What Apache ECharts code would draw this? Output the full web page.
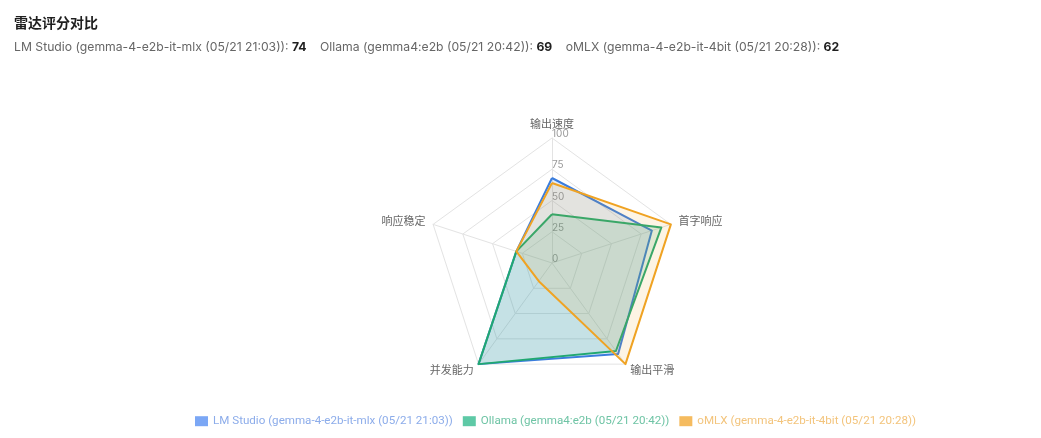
<!DOCTYPE html>
<html>
<head>
<meta charset="utf-8">
<script src="https://cdn.jsdelivr.net/npm/echarts@6/dist/echarts.min.js"></script>
<style>
  html, body { margin: 0; padding: 0; background: #fff; }
  #content { width: 1041px; height: 438px; }
</style>
</head>
<body>
<div id="content"></div>
<script>
// indicator order is counter-clockwise from the top (echarts radar default)
var indicatorNames = ['输出速度', '响应稳定', '并发能力', '输出平滑', '首字响应'];
var seriesNames = [
    'LM Studio (gemma-4-e2b-it-mlx (05/21 21:03))',
    'Ollama (gemma4:e2b (05/21 20:42))',
    'oMLX (gemma-4-e2b-it-4bit (05/21 20:28))'
];
var scores = [74, 69, 62];
var lmStudio = [68, 30, 100, 90, 84];
var ollama = [39, 30, 100, 87, 92];
var omlx = [64, 30, 18, 100, 100];
var tickMax = 100;

var lineColors = ['#3b7ddd', '#22a872', '#f0a323'];
var legendIconColors = ['#7ba7f5', '#5ec9a6', '#f5bb5f'];
var legendTextColors = ['#8cacea', '#6fc4a5', '#f3c47c'];

var font = 'Inter, "Noto Sans CJK SC", sans-serif';
var legendFont = 'Roboto, "Noto Sans CJK SC", sans-serif';

!(function(window) {
    var element = document.getElementById('content');
    var myChart = echarts.init(element);

    var subParts = [];
    for (var i = 0; i < seriesNames.length; i++) {
        subParts.push('{n|' + seriesNames[i] + ':} {b|' + scores[i] + '}');
    }

    var values = [lmStudio, ollama, omlx];
    var seriesData = [];
    var legendData = [];
    for (var k = 0; k < values.length; k++) {
        seriesData.push({
            name: seriesNames[k],
            value: values[k],
            symbol: 'none',
            lineStyle: { color: lineColors[k], width: 2 },
            itemStyle: { color: lineColors[k] },
            areaStyle: { color: lineColors[k], opacity: k === 2 ? 0.12 : 0.15 }
        });
        legendData.push({
            name: seriesNames[k],
            itemStyle: { color: legendIconColors[k] },
            textStyle: { color: legendTextColors[k] }
        });
    }

    var indicator = indicatorNames.map(function(n) {
        return { name: n, min: 0, max: tickMax };
    });

    var option = {
        backgroundColor: '#fff',
        animation: false,
        textStyle: { fontFamily: font },
        title: {
            text: '雷达评分对比',
            subtext: subParts.join('    '),
            left: 14,
            top: 17,
            padding: 0,
            itemGap: 10,
            textStyle: { fontSize: 14, fontWeight: 600, color: '#1f1f1f', fontFamily: font },
            subtextStyle: {
                fontSize: 12,
                fontFamily: font,
                rich: {
                    n: { fontSize: 12.2, color: '#666', fontFamily: font },
                    b: { fontSize: 12.2, color: '#1f1f1f', fontWeight: 'bold', fontFamily: font }
                }
            }
        },
        legend: {
            data: legendData,
            bottom: 6,
            left: 190,
            icon: 'rect',
            itemWidth: 13,
            itemHeight: 10,
            itemGap: 10,
            textStyle: { fontSize: 11.6, fontFamily: legendFont }
        },
        radar: [{
            center: [552, 263],
            radius: 125,
            splitNumber: 4,
            indicator: indicator,
            nameGap: 8,
            axisName: { color: '#666', fontSize: 11, fontFamily: font },
            axisLine: { lineStyle: { color: '#e3e3e3' } },
            splitLine: { lineStyle: { color: '#e3e3e3' } },
            splitArea: { show: false }
        }, {
            // single-axis radar only used to print the tick values on the top axis
            center: [552, 263],
            radius: 125,
            splitNumber: 4,
            indicator: [{ name: '', min: 0, max: tickMax }],
            axisName: { show: false },
            axisLine: { show: false },
            splitLine: { show: false },
            splitArea: { show: false },
            axisLabel: {
                show: true,
                color: '#999',
                fontSize: 10,
                margin: 0,
                align: 'left',
                verticalAlign: 'bottom',
                lineHeight: 8,
                fontFamily: font
            }
        }],
        series: [{
            type: 'radar',
            radarIndex: 0,
            data: seriesData
        }]
    };
    myChart.setOption(option);
})(window);
</script>
</body>
</html>
